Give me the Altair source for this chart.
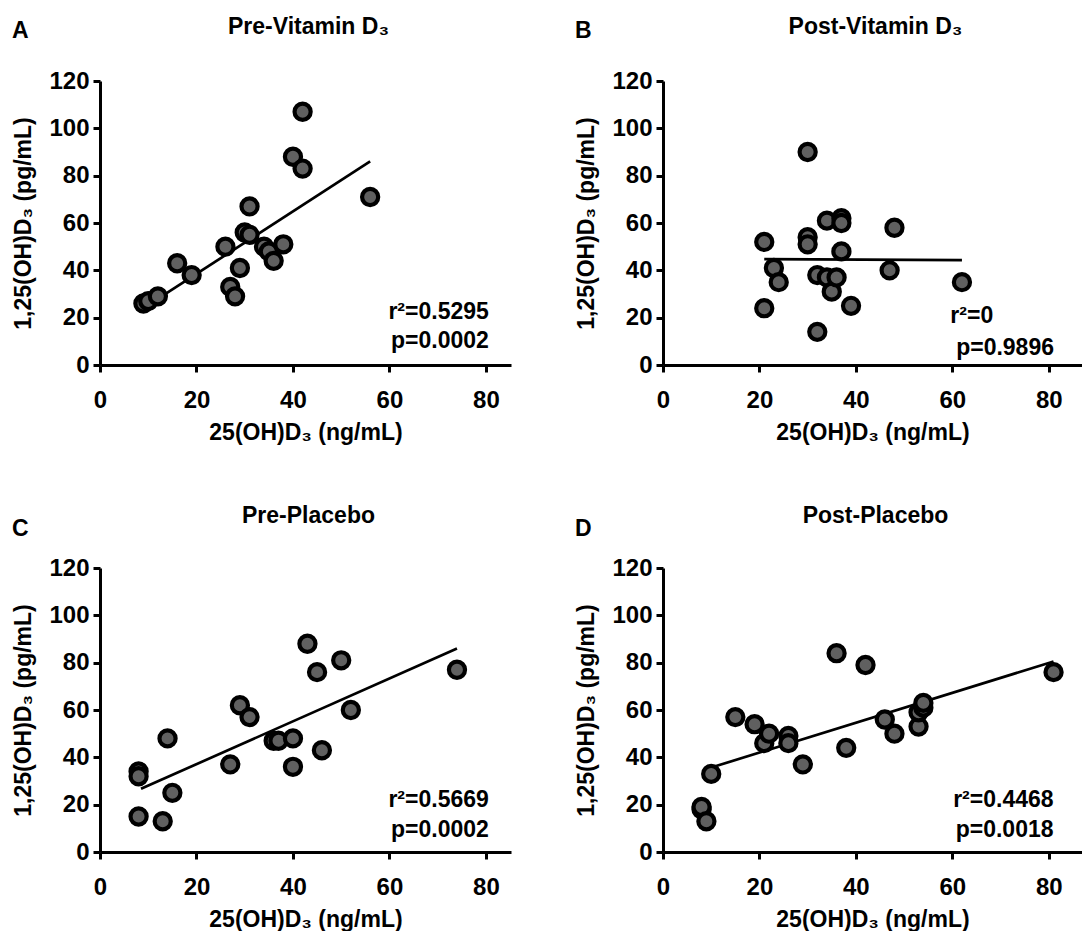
import altair as alt
import pandas as pd

FONT = "Liberation Sans"

# ---- data ----
A_x = [9, 10, 12, 16, 19, 26, 27, 28, 29, 30, 31, 31, 34, 35, 36, 38, 40, 42, 42, 56]
A_y = [26, 27, 29, 43, 38, 50, 33, 29, 41, 56, 55, 67, 50, 48, 44, 51, 88, 83, 107, 71]
A_fit_x = [9, 56]
A_fit_y = [24, 86]

B_x = [21, 21, 23, 24, 30, 30, 30, 32, 32, 34, 34, 35, 36, 37, 37, 37, 39, 47, 48, 62]
B_y = [52, 24, 41, 35, 90, 54, 51, 38, 14, 61, 37, 31, 37, 62, 60, 48, 25, 40, 58, 35]
B_fit_x = [21, 62]
B_fit_y = [44.7, 44.3]

C_x = [8, 8, 8, 13, 14, 15, 27, 29, 31, 36, 37, 40, 40, 43, 45, 46, 50, 52, 74]
C_y = [34, 32, 15, 13, 48, 25, 37, 62, 57, 47, 47, 48, 36, 88, 76, 43, 81, 60, 77]
C_fit_x = [8.5, 74]
C_fit_y = [26.7, 86]

D_x = [8, 8, 9, 10, 15, 19, 21, 22, 26, 26, 29, 36, 38, 42, 46, 48, 53, 53, 54, 54, 81]
D_y = [18, 19, 13, 33, 57, 54, 46, 50, 49, 46, 37, 84, 44, 79, 56, 50, 53, 59, 61, 63, 76]
D_fit_x = [10.5, 81]
D_fit_y = [36, 80.5]

titles = ["Pre-Vitamin D\u2083", "Post-Vitamin D\u2083", "Pre-Placebo", "Post-Placebo"]
letters = ["A", "B", "C", "D"]
ann_text = [["r\u00b2=0.5295", "p=0.0002"], ["r\u00b2=0", "p=0.9896"],
            ["r\u00b2=0.5669", "p=0.0002"], ["r\u00b2=0.4468", "p=0.0018"]]
ann_x = [[80.6, 80.6], [59.6, 60.8], [80.6, 80.6], [81.0, 81.0]]
ann_y = [[19.3, 7.0], [17.7, 4.2], [18.9, 6.3], [18.9, 6.3]]
ann_align = ["right", "left", "right", "right"]

x_title = "25(OH)D\u2083 (ng/mL)"
y_title = "1,25(OH)D\u2083 (pg/mL)"
x_ticks = [0, 20, 40, 60, 80]
y_ticks = [0, 20, 40, 60, 80, 100, 120]

PX_PER_UNIT = 4.82
H = 284


def panel(xs, ys, fx, fy, title, letter, atext, ax, ay, align, xmax, letter_dy, title_dy):
    w = round(xmax * PX_PER_UNIT)
    xs_ = alt.Scale(domain=[0, xmax], nice=False, zero=True)
    ys_ = alt.Scale(domain=[0, 120], nice=False)
    xax = alt.Axis(values=x_ticks, title=x_title, labelPadding=16, titlePadding=9)
    yax = alt.Axis(values=y_ticks, title=y_title, labelPadding=4, titlePadding=13)

    pts = alt.Chart(pd.DataFrame({"x": xs, "y": ys})).mark_point(
        filled=True, shape="circle", size=260, fill="#606060", stroke="black",
        strokeWidth=4.2, opacity=1
    ).encode(
        x=alt.X("x:Q", scale=xs_, axis=xax),
        y=alt.Y("y:Q", scale=ys_, axis=yax),
    )
    fit = alt.Chart(pd.DataFrame({"x": fx, "y": fy})).mark_line(
        color="black", strokeWidth=2.7
    ).encode(x=alt.X("x:Q", scale=xs_), y=alt.Y("y:Q", scale=ys_))
    ann = alt.Chart(pd.DataFrame({"x": ax, "y": ay, "t": atext})).mark_text(
        align=align, baseline="alphabetic", font=FONT, fontSize=23,
        fontWeight="bold", color="black"
    ).encode(x=alt.X("x:Q", scale=xs_), y=alt.Y("y:Q", scale=ys_), text="t:N")
    let = alt.Chart(pd.DataFrame({"t": [letter]})).mark_text(
        align="left", baseline="alphabetic", font=FONT, fontSize=23,
        fontWeight="bold", color="black"
    ).encode(x=alt.value(-88), y=alt.value(letter_dy), text="t:N")
    ttl = alt.Chart(pd.DataFrame({"t": [title]})).mark_text(
        align="center", baseline="alphabetic", font=FONT, fontSize=23,
        fontWeight="bold", color="black"
    ).encode(x=alt.value(w / 2 + 3), y=alt.value(title_dy), text="t:N")
    return alt.layer(fit, pts, ann, let, ttl).properties(width=w, height=H)


pA = panel(A_x, A_y, A_fit_x, A_fit_y, titles[0], letters[0], ann_text[0], ann_x[0], ann_y[0], ann_align[0], 85.2, -43, -47)
pB = panel(B_x, B_y, B_fit_x, B_fit_y, titles[1], letters[1], ann_text[1], ann_x[1], ann_y[1], ann_align[1], 86.9, -43, -47)
pC = panel(C_x, C_y, C_fit_x, C_fit_y, titles[2], letters[2], ann_text[2], ann_x[2], ann_y[2], ann_align[2], 85.2, -32, -45)
pD = panel(D_x, D_y, D_fit_x, D_fit_y, titles[3], letters[3], ann_text[3], ann_x[3], ann_y[3], ann_align[3], 86.9, -32, -45)

chart = alt.concat(pA, pB, pC, pD, columns=2,
                   spacing={"row": 203, "column": 152}, bounds="flush").properties(
    padding={"left": 4, "top": 8, "right": 0, "bottom": 0}
).configure_view(stroke=None).configure_axis(
    grid=False, domainWidth=3, tickWidth=3, tickSize=7, domainColor="black",
    tickColor="black", labelFont=FONT, labelFontSize=24, labelFontWeight="bold",
    labelColor="black", titleFont=FONT, titleFontSize=23, titleFontWeight="bold",
    titleColor="black", labelFlush=False, labelOverlap=False
)

chart.save("out.html", embed_options={"renderer": "svg", "actions": False})
